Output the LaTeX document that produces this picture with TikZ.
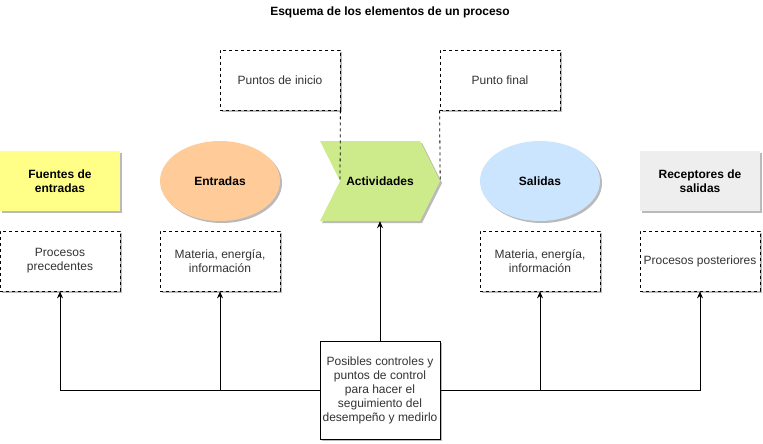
\documentclass[tikz,border=0pt]{standalone}
\usepackage{fontspec}
\setmainfont{Liberation Sans}
\usetikzlibrary{shadows,arrows.meta}
\definecolor{cyellow}{HTML}{FFFF88}
\definecolor{cpeach}{HTML}{FFCC99}
\definecolor{cgreen}{HTML}{CDEB8B}
\definecolor{cblue}{HTML}{CCE5FF}
\definecolor{cgrey}{HTML}{EEEEEE}
\definecolor{ctext}{HTML}{333333}
\begin{document}
\begin{tikzpicture}[x=1pt,y=-1pt,
  font=\fontsize{12}{14}\selectfont,
  shad/.style={drop shadow={shadow xshift=2pt,shadow yshift=-2pt,fill=black!45,opacity=0.6}},
  mainbox/.style={rectangle,minimum width=120pt,minimum height=60pt,inner sep=0pt,align=center,font=\fontsize{12}{14}\selectfont\bfseries,shad},
  oval/.style={ellipse,minimum width=120pt,minimum height=80pt,inner sep=0pt,align=center,font=\fontsize{12}{14}\selectfont\bfseries,shad},
  dbox/.style={rectangle,draw,dash pattern=on 3pt off 3pt,line width=0.8pt,minimum width=120pt,minimum height=60pt,inner sep=0pt,align=center,fill=white,shad},
  arr/.style={line width=0.8pt,-{Stealth[length=7pt,width=6pt]}},
  ln/.style={line width=0.8pt},
  call/.style={line width=0.8pt,dash pattern=on 3pt off 3pt}]
\usetikzlibrary{shapes.geometric}
\useasboundingbox (0,0) rectangle (763,444);
\fill[white] (0,0) rectangle (763,444);

\node[font=\fontsize{12}{14}\selectfont\bfseries] (title) at (390,12) {Esquema de los elementos de un proceso};

% top row
\node[mainbox,fill=cyellow] (fue) at (60,181) {Fuentes de\\entradas};
\node[oval,fill=cpeach] (ent) at (220,181) {Entradas};
\fill[cgreen,shad] (320,141) -- (420,141) -- (440,181) -- (420,221) -- (320,221) -- (340,181) -- cycle;
\node[rectangle,minimum width=120pt,minimum height=80pt,inner sep=0pt,font=\fontsize{12}{14}\selectfont\bfseries] (act) at (380,181) {Actividades};
\coordinate (notch) at (340,181);
\node[oval,fill=cblue] (sal) at (540,181) {Salidas};
\node[mainbox,fill=cgrey] (rec) at (700,181) {Receptores de\\salidas};

% callouts
\node[dbox,text=ctext] (ini) at (280,80) {Puntos de inicio};
\node[dbox,text=ctext] (fin) at (500,80) {Punto final};
\draw[call] (ini.south east) -- (notch);
\draw[call] (fin.south west) -- (act.east);

% dashed boxes
\node[dbox,text=ctext] (d1) at (60,261) {Procesos\\precedentes};
\node[dbox,text=ctext] (d2) at (220,261) {Materia, energía,\\información};
\node[dbox,text=ctext] (d3) at (540,261) {Materia, energía,\\información};
\node[dbox,text=ctext] (d4) at (700,261) {Procesos posteriores};

% control box
\node[rectangle,draw,line width=0.8pt,fill=white,minimum width=120pt,minimum height=98pt,inner sep=0pt,align=center,text=ctext,shad] (ctl) at (380,390) {Posibles controles y\\puntos de control\\para hacer el\\seguimiento del\\desempeño y medirlo};

\draw[arr] (ctl.north) -- (act.south);
\draw[arr] (ctl.west) -| (d1.south);
\draw[arr] (ctl.west) -| (d2.south);
\draw[arr] (ctl.east) -| (d3.south);
\draw[arr] (ctl.east) -| (d4.south);
\end{tikzpicture}
\end{document}
